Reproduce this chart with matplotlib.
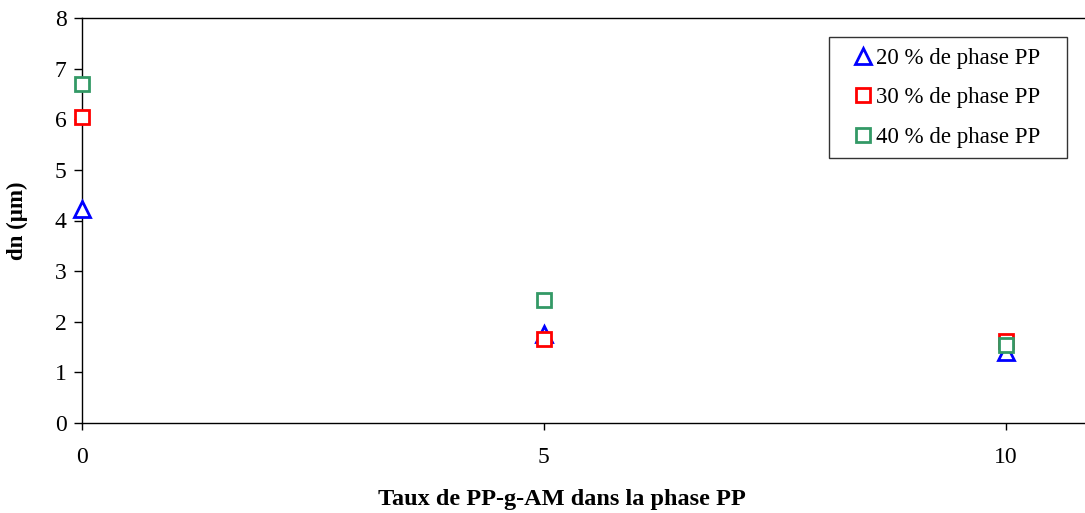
import matplotlib.pyplot as plt

plt.rcParams['font.family'] = ['Liberation Serif', 'DejaVu Serif']

# Data
taux = [0, 5, 10]
pp20 = [4.22, 1.75, 1.40]
pp30 = [6.05, 1.65, 1.62]
pp40 = [6.70, 2.42, 1.55]
labels = ['20 % de phase PP   ', '30 % de phase PP   ', '40 % de phase PP   ']

fig = plt.figure(figsize=(10.85, 5.13), dpi=100)
ax = fig.add_axes([82 / 1085, 1 - 423 / 513, 1 - 82 / 1085 + 0.002, 405 / 513])

ax.plot(taux, pp20, ls='none', marker='^', ms=11, mfc='white', mec='#0000ff', mew=2,
        label=labels[0], clip_on=False, zorder=3)
ax.plot(taux, pp30, ls='none', marker='s', ms=10, mfc='white', mec='#ff0000', mew=2,
        label=labels[1], clip_on=False, zorder=4)
ax.plot(taux, pp40, ls='none', marker='s', ms=10, mfc='white', mec='#339966', mew=2,
        label=labels[2], clip_on=False, zorder=5)

ax.set_xlim(0, 10.88)
ax.set_ylim(0, 8)
ax.set_xticks([0, 5, 10])
ax.set_yticks(range(0, 9))
ax.tick_params(axis='both', labelsize=17, direction='out', width=1)
ax.tick_params(axis='x', length=5, pad=12)
ax.tick_params(axis='y', length=6, pad=5)
for sp in ax.spines.values():
    sp.set_linewidth(1)
ax.spines['right'].set_visible(False)

ax.set_xlabel('Taux de PP-g-AM dans la phase PP', fontsize=17.5, fontweight='bold')
ax.xaxis.set_label_coords(0.477, -0.163)
ax.set_ylabel('dn (µm)', fontsize=16.5, fontweight='bold')
ax.yaxis.set_label_coords(-0.054, 0.5)

leg = ax.legend(loc='upper right', bbox_to_anchor=(0.980, 0.952), borderaxespad=0,
                fontsize=16.5, frameon=True, fancybox=False, edgecolor='black',
                handlelength=2.05, handletextpad=-0.45, labelspacing=0.8, borderpad=0.45)
leg.get_frame().set_linewidth(1)

fig.savefig('out.png', dpi=100)
